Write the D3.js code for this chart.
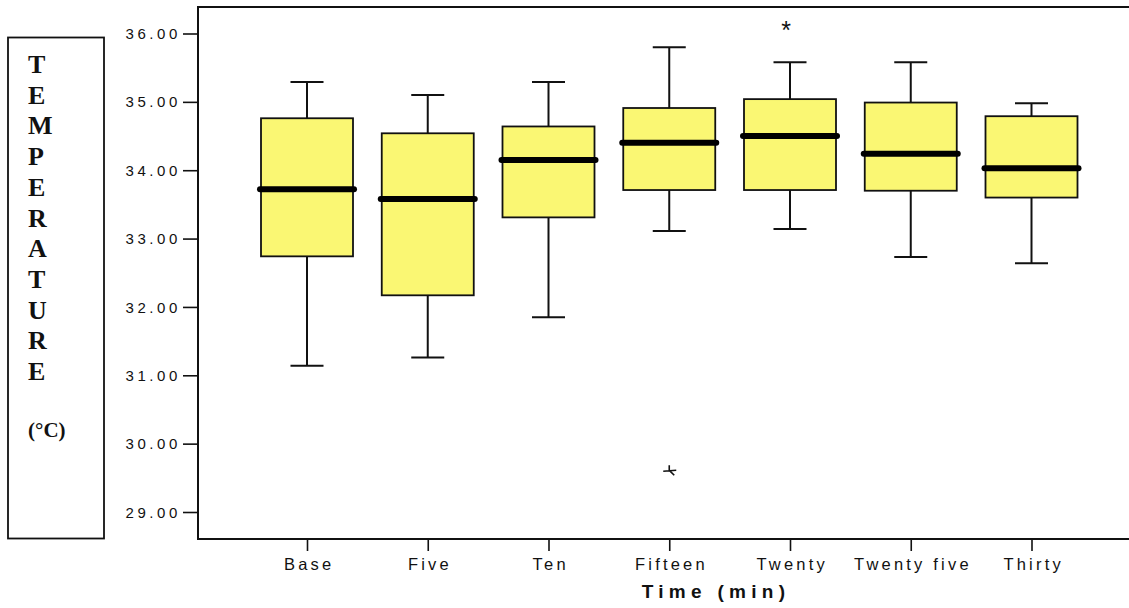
<!DOCTYPE html>
<html>
<head>
<meta charset="utf-8">
<script src="https://cdn.jsdelivr.net/npm/d3@7"></script>
<style>
  html, body { margin: 0; padding: 0; background: #fff; overflow: hidden; }
  svg { display: block; }
  .tick text { font-family: "Liberation Sans", Arial, sans-serif; fill: #111; }
</style>
</head>
<body>
<div id="chart"></div>
<script>
// valores (temperatura en grados C)
const categories = ["Base", "Five", "Ten", "Fifteen", "Twenty", "Twenty five", "Thirty"];
const whiskerLow = [31.14, 31.26, 31.85, 33.11, 33.14, 32.73, 32.64];
const q1 = [32.74, 32.17, 33.31, 33.71, 33.71, 33.70, 33.60];
const median = [33.72, 33.58, 34.15, 34.40, 34.50, 34.24, 34.03];
const q3 = [34.76, 34.54, 34.64, 34.91, 35.04, 34.99, 34.79];
const whiskerHigh = [35.29, 35.10, 35.29, 35.80, 35.58, 35.58, 34.98];
const extremes = [
  { cat: "Fifteen", value: 29.61, mark: "low" },
  { cat: "Twenty", value: 36.10, mark: "star" }
];
const yTicks = [29, 30, 31, 32, 33, 34, 35, 36];
const yLetters = "TEMPERATURE".split("");

const width = 1129, height = 608;
const frame = { left: 198, top: 7, bottom: 539, right: 1129 };

const svg = d3.select("#chart").append("svg")
  .attr("width", width)
  .attr("height", height);

const x = d3.scalePoint().domain(categories).range([307, 1031.5]);
const y = d3.scaleLinear().domain([29, 36]).range([512, 33.5]);

const boxW = 92, capW = 33;

// marco del grafico: solo arriba, izquierda y abajo
svg.append("line")
  .attr("x1", frame.left).attr("x2", frame.right)
  .attr("y1", frame.top).attr("y2", frame.top)
  .attr("stroke", "#111").attr("stroke-width", 2);
svg.append("line")
  .attr("x1", frame.left).attr("x2", frame.right)
  .attr("y1", frame.bottom).attr("y2", frame.bottom)
  .attr("stroke", "#111").attr("stroke-width", 2);
svg.append("line")
  .attr("x1", frame.left).attr("x2", frame.left)
  .attr("y1", frame.top - 1).attr("y2", frame.bottom + 1)
  .attr("stroke", "#111").attr("stroke-width", 2);

// eje Y
const yAxis = svg.append("g")
  .attr("transform", `translate(${frame.left},0)`)
  .call(d3.axisLeft(y).tickValues(yTicks).tickFormat(d3.format(".2f")).tickSize(15).tickPadding(2));
yAxis.select(".domain").remove();
yAxis.selectAll(".tick line").attr("stroke", "#111").attr("stroke-width", 1.6);
yAxis.selectAll(".tick text")
  .attr("font-size", 15)
  .attr("letter-spacing", 3.6)
  .attr("dy", "0.34em");

// eje X
const xAxis = svg.append("g")
  .attr("transform", `translate(0,${frame.bottom})`)
  .call(d3.axisBottom(x).tickSize(12).tickPadding(7));
xAxis.select(".domain").remove();
xAxis.selectAll(".tick line").attr("stroke", "#111").attr("stroke-width", 1.6);
xAxis.selectAll(".tick text")
  .attr("font-size", 16.5)
  .attr("letter-spacing", 3.2)
  .attr("dx", "0.1em");

// titulo eje X
svg.append("text")
  .attr("x", 716)
  .attr("y", 598)
  .attr("text-anchor", "middle")
  .attr("font-family", "Liberation Sans, Arial, sans-serif")
  .attr("font-weight", "bold")
  .attr("font-size", 19)
  .attr("letter-spacing", 5.3)
  .attr("fill", "#111")
  .text("Time (min)");

// caja de la etiqueta Y
svg.append("rect")
  .attr("x", 8).attr("y", 37.5)
  .attr("width", 96).attr("height", 501)
  .attr("fill", "none")
  .attr("stroke", "#111")
  .attr("stroke-width", 1.8);

svg.append("g").selectAll("text")
  .data(yLetters)
  .join("text")
  .attr("x", 28)
  .attr("y", (d, i) => 73 + i * 30.7)
  .attr("font-family", "Liberation Serif, Times New Roman, serif")
  .attr("font-weight", "bold")
  .attr("font-size", 26)
  .attr("fill", "#111")
  .text(d => d);

svg.append("text")
  .attr("x", 28)
  .attr("y", 437)
  .attr("font-family", "Liberation Serif, Times New Roman, serif")
  .attr("font-weight", "bold")
  .attr("font-size", 21)
  .attr("fill", "#111")
  .text("(°C)");

// cajas
const data = categories.map((c, i) => ({
  cat: c, lo: whiskerLow[i], q1: q1[i], med: median[i], q3: q3[i], hi: whiskerHigh[i]
}));

const g = svg.append("g").selectAll("g")
  .data(data)
  .join("g")
  .attr("transform", d => `translate(${x(d.cat)},0)`);

g.append("line")
  .attr("x1", 0).attr("x2", 0)
  .attr("y1", d => y(d.hi)).attr("y2", d => y(d.lo))
  .attr("stroke", "#111").attr("stroke-width", 2);

g.append("line")
  .attr("x1", -capW / 2).attr("x2", capW / 2)
  .attr("y1", d => y(d.hi)).attr("y2", d => y(d.hi))
  .attr("stroke", "#111").attr("stroke-width", 2);

g.append("line")
  .attr("x1", -capW / 2).attr("x2", capW / 2)
  .attr("y1", d => y(d.lo)).attr("y2", d => y(d.lo))
  .attr("stroke", "#111").attr("stroke-width", 2);

g.append("rect")
  .attr("x", -boxW / 2)
  .attr("width", boxW)
  .attr("y", d => y(d.q3))
  .attr("height", d => y(d.q1) - y(d.q3))
  .attr("fill", "#faf773")
  .attr("stroke", "#111")
  .attr("stroke-width", 1.8);

g.append("line")
  .attr("x1", -boxW / 2 - 1).attr("x2", boxW / 2 + 1)
  .attr("y1", d => y(d.med)).attr("y2", d => y(d.med))
  .attr("stroke", "#000")
  .attr("stroke-width", 6)
  .attr("stroke-linecap", "round");

// valores extremos
extremes.forEach(e => {
  const cx = x(e.cat), cy = y(e.value);
  if (e.mark === "star") {
    svg.append("text")
      .attr("x", cx - 4).attr("y", cy + 12)
      .attr("text-anchor", "middle")
      .attr("font-family", "Liberation Sans, Arial, sans-serif")
      .attr("font-size", 25)
      .attr("fill", "#111")
      .text("*");
  } else {
    svg.append("path")
      .attr("d", `M${cx - 6},${cy + 1}L${cx + 7},${cy}M${cx},${cy - 5}L${cx},${cy}L${cx + 5},${cy + 5}`)
      .attr("fill", "none")
      .attr("stroke", "#111")
      .attr("stroke-width", 1.6);
  }
});
</script>
</body>
</html>
